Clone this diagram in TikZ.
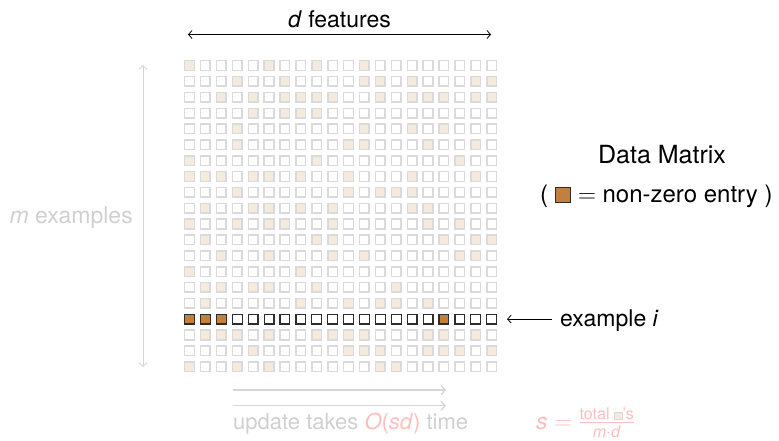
\documentclass[tikz,border=0pt]{standalone}
\usepackage{amsmath}
\usepackage{fontspec}
\setmainfont{TeX Gyre Heros}
\usetikzlibrary{arrows.meta}

\definecolor{cellline}{RGB}{218,218,218}
\definecolor{cellfill}{RGB}{244,234,222}
\definecolor{nzfill}{RGB}{193,128,62}
\definecolor{rowline}{RGB}{45,45,45}
\definecolor{fadetext}{RGB}{208,208,208}
\definecolor{fadeline}{RGB}{214,214,214}
\definecolor{fadered}{RGB}{255,190,190}

\tikzset{
  cell/.style={draw=cellline, line width=1.5pt, fill=white, minimum size=9.6pt, inner sep=0pt},
  cellnz/.style={cell, fill=cellfill},
  rowcell/.style={draw=rowline, line width=1.2pt, fill=white, minimum size=9.8pt, inner sep=0pt},
  rownz/.style={rowcell, fill=nzfill},
  txt/.style={inner sep=0pt, font=\fontsize{23}{27}\selectfont},
  dimarrow/.style={line width=0.8pt, {Straight Barb[length=3.5pt,width=8pt]}-{Straight Barb[length=3.5pt,width=8pt]}},
  fadearrow/.style={draw=fadeline, line width=1.3pt, -{Straight Barb[length=4pt,width=9pt]}},
}

\begin{document}
\begin{tikzpicture}[x=1pt, y=-1pt]
\useasboundingbox (0,0) rectangle (779,440);

% ---- the data matrix: 20 x 20 cells ----
\foreach \r in {0,...,15,17,18,19}
  \foreach \c in {0,...,19}
    \node[cell] (cell-\r-\c) at ({189.5+15.9*\c},{65.5+15.85*\r}) {};
\foreach \c in {0,...,19}
  \node[rowcell] (cell-16-\c) at ({189.5+15.9*\c},{65.5+15.85*16}) {};

% non-zero entries of the faded rows
\foreach \r/\cs in {
  0/{0,5,8,11},
  1/{3,6,11,12,14,18,19},
  2/{2,4,6,7,8,9,12,14,15,16,18,19},
  3/{4,6,7,8},
  4/{3,11,14,16},
  5/{3,10,11,15,18},
  6/{0,8,17},
  7/{0,1,2,4,5,7,10,14,18},
  8/{3,10,12,13,14},
  9/{1,4,5,7,9,14,15},
  10/{0,3,5,6,9,15,17},
  11/{1,8,9,16,18,19},
  12/{2,5,9,11,17,18},
  13/{0,7},
  14/{1,2,4,5,8,13},
  15/{1,7,10,12,13,15},
  17/{1,2,3,5,8,9,10,11,15,16,18},
  18/{4,10,11,12,15,16,17,19},
  19/{0,3,5,12,13}}
  \foreach \c in \cs
    \node[cellnz] (nz-\r-\c) at (cell-\r-\c) {};

% non-zero entries of example i
\foreach \c in {0,1,2,16}
  \node[rownz] (nz-16-\c) at (cell-16-\c) {};

% ---- dimensions ----
\coordinate (dl) at (188,34.5);
\coordinate (dr) at (491,34.5);
\draw[dimarrow] (dl) -- (dr);
\node[txt, anchor=base] (dlab) at (339.5,27) {\textit{d} features};

\coordinate (mt) at (143,65);
\coordinate (mb) at (143,367);
\draw[dimarrow, draw=fadeline, line width=0.9pt] (mt) -- (mb);
\node[txt, anchor=base east, text=fadetext] (mlab) at (133,223) {\textit{m} examples};

% ---- legend ----
\node[txt, anchor=base, font=\fontsize{25}{30}\selectfont] (title) at (662,163) {Data Matrix};
\node[txt, anchor=base west, font=\fontsize{24}{29}\selectfont] (legend) at (540,202)
  {( {\setlength{\fboxsep}{0pt}\setlength{\fboxrule}{1pt}%
      \fcolorbox{rowline}{nzfill}{\rule{0pt}{14.5pt}\hspace{14.5pt}}} $=$ non-zero entry )};

% ---- example i ----
\node[txt, anchor=base west] (exi) at (560,326) {example \textit{i}};
\draw[line width=0.8pt, {Straight Barb[length=3.5pt,width=8pt]}-, shorten <=10pt, shorten >=8pt]
  (cell-16-19.east) -- (cell-16-19.east -| exi.west);

% ---- update cost ----
\coordinate (u1s) at (233,390);
\coordinate (u1e) at (446,390);
\coordinate (u2s) at (233,405.7);
\coordinate (u2e) at (446,405.7);
\draw[fadearrow] (u1s) -- (u1e);
\draw[fadearrow] (u2s) -- (u2e);
\node[txt, anchor=base west, text=fadetext, font=\fontsize{22}{26}\selectfont] (cost) at (233,429)
  {update takes \textcolor{fadered}{\textit{O}(\textit{sd})} time};

\node[txt, anchor=base west, text=fadered] (sdef) at (536,429)
  {\textit{s} $=$ $\frac{\text{total {\setlength{\fboxsep}{0pt}\setlength{\fboxrule}{0.7pt}\fcolorbox{cellline}{cellfill}{\rule{0pt}{7pt}\hspace{7pt}}}'s}}{\text{\textit{m}$\cdot$\textit{d}}}$};
\end{tikzpicture}
\end{document}
